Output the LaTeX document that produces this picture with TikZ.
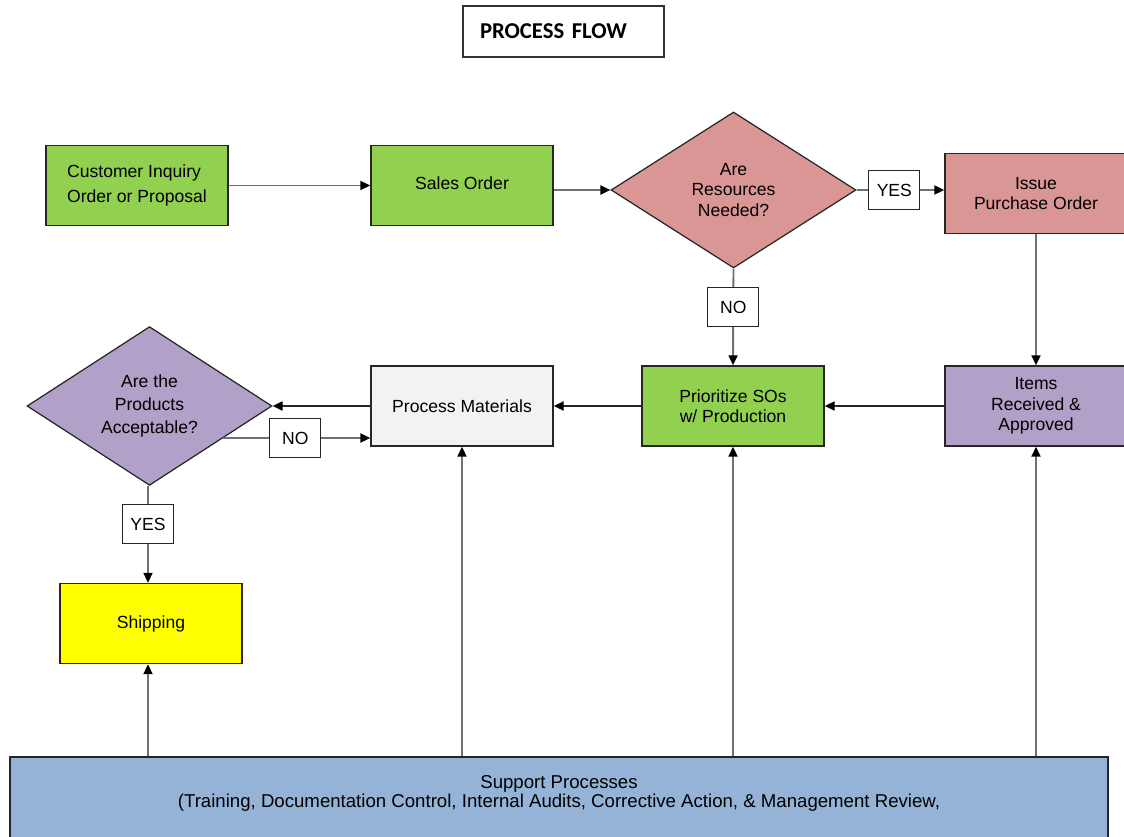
\documentclass[tikz,border=0pt]{standalone}
\usepackage{fontspec}
\setmainfont{Liberation Sans}
\newfontfamily\titlefont{Carlito}
\usetikzlibrary{shapes.geometric,arrows.meta,calc}
\definecolor{cgreen}{HTML}{92D050}
\definecolor{cpink}{HTML}{DA9694}
\definecolor{cpurple}{HTML}{B1A0C7}
\definecolor{cgray}{HTML}{F2F2F2}
\definecolor{cyellow}{HTML}{FFFF00}
\definecolor{cblue}{HTML}{95B3D7}
\definecolor{cline}{HTML}{707070}
\tikzset{
  x=0.02cm, y=-0.02cm,
  every node/.style={font=\fontsize{10}{11.6}\selectfont},
  procbox/.style={draw=black!85, line width=0.8pt, rectangle, minimum width=3.64cm, minimum height=1.6cm, align=center, inner sep=2pt},
  decision/.style={draw=black!85, line width=0.7pt, diamond, minimum width=4.9cm, minimum height=3.12cm, inner sep=0pt, align=center},
  lbl/.style={draw=black!85, fill=white, line width=0.7pt, minimum width=1.02cm, minimum height=0.78cm, inner sep=1pt},
  conn/.style={draw=cline, line width=1.1pt, -{Triangle[length=2mm,width=1.8mm,color=black]}},
  connb/.style={conn, draw=black!85}
}
\begin{document}
\begin{tikzpicture}
\useasboundingbox (0,0) rectangle (1124,837);
% title
\node[draw=black!80, line width=1.1pt, text width=3.34cm, inner xsep=0.34cm, minimum height=1.02cm, align=left, font=\titlefont\bfseries\fontsize{12.9}{14}\selectfont] (title) at (563.5,31.5) {PROCESS FLOW};
% top row
\node[procbox, fill=cgreen, align=left, font=\fontsize{10}{14.2}\selectfont] (cust) at (137,185.5) {Customer Inquiry\\Order or Proposal};
\node[procbox, fill=cgreen] (sales) at (462,185.5) {\raisebox{2.5pt}{Sales Order}};
\node[decision, fill=cpink] (res) at (733.5,190) {Are\\Resources\\Needed?};
\node[procbox, fill=cpink] (po) at (1036,193.5) {Issue\\Purchase Order};
% middle row
\node[procbox, fill=cpurple] (items) at (1036,406) {Items\\Received \&\\Approved};
\node[procbox, fill=cgreen] (prio) at (733,406) {Prioritize SOs\\w/ Production};
\node[procbox, fill=cgray] (pm) at (462,406) {Process Materials};
\node[decision, fill=cpurple, font=\fontsize{10}{13}\selectfont] (prod) at (149.5,406) {Are the\\Products\\Acceptable?};
% shipping
\node[procbox, fill=cyellow] (ship) at (151,623.5) {Shipping};
% support
\node[draw=black!85, line width=0.8pt, fill=cblue, minimum width=21.96cm, minimum height=2.1cm, inner sep=0pt] (sup) at (559,809.5) {};
\node[font=\fontsize{10.6}{10.8}\selectfont, align=center] (suptext) at (559,793.5) {Support Processes\\(Training, Documentation Control, Internal Audits, Corrective Action, \& Management Review,};
% connectors
\draw[conn] (cust.east) -- (sales.west);
\draw[conn] (sales.east |- res.west) -- (res.west);
\draw[conn] (res.east) -- node[lbl, pos=0.43] {YES} (po.west |- res.east);
\draw[conn] (res.south) -- node[lbl, pos=0.4] {NO} (prio.north);
\draw[conn] (po.south) -- (items.north);
\draw[connb] (items.west) -- (prio.east);
\draw[connb] (prio.west) -- (pm.west -| pm.east);
\draw[connb] (pm.west) -- (prod.east);
\coordinate (noStart) at ($(prod.east)!0.4!(prod.south)$);
\draw[conn] (noStart) -- node[lbl, pos=0.49] {NO} (noStart -| pm.west);
\draw[conn] (prod.south -| 148,0) -- node[lbl, pos=0.395] {YES} (ship.north -| 148,0);
\draw[conn] (sup.north -| 148,0) -- (ship.south -| 148,0);
\draw[conn] (sup.north -| pm.south) -- (pm.south);
\draw[conn] (sup.north -| prio.south) -- (prio.south);
\draw[conn] (sup.north -| items.south) -- (items.south);
\end{tikzpicture}
\end{document}
